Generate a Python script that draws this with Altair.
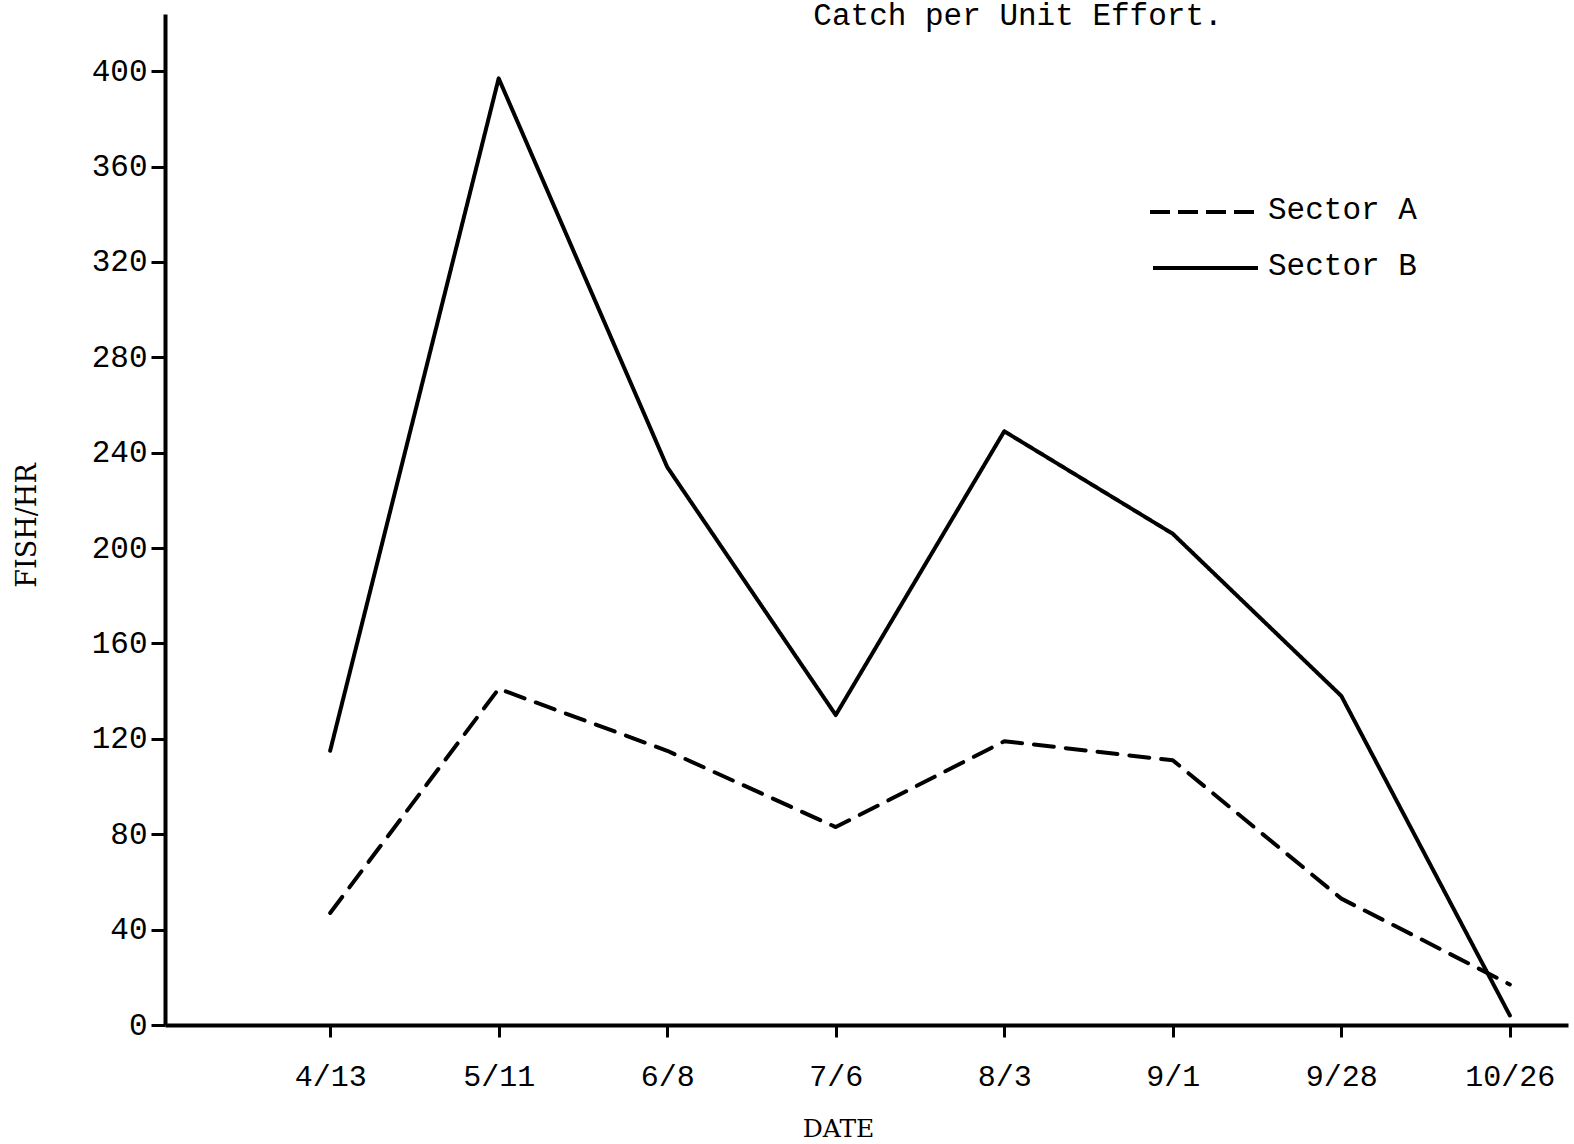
import altair as alt
import pandas as pd

# Sampling dates and catch rates (fish per hour) for the two sectors
dates = ["4/13", "5/11", "6/8", "7/6", "8/3", "9/1", "9/28", "10/26"]
sector_a = [47, 141, 115, 83, 119, 111, 53, 17]
sector_b = [115, 397, 234, 130, 249, 206, 138, 4]
y_ticks = [0, 40, 80, 120, 160, 200, 240, 280, 320, 360, 400]

rows = []
for i, d in enumerate(dates):
    rows.append({"idx": i, "date": d, "series": "Sector A", "value": sector_a[i]})
    rows.append({"idx": i, "date": d, "series": "Sector B", "value": sector_b[i]})
df = pd.DataFrame(rows)

label_map = "{" + ",".join(f"'{i}':'{d}'" for i, d in enumerate(dates)) + "}"

MONO = "Liberation Mono"
SERIF = "DejaVu Serif"

x_enc = alt.X(
    "idx:Q",
    scale=alt.Scale(domain=[-0.98, 7.345], nice=False, zero=False),
    axis=alt.Axis(
        values=list(range(len(dates))),
        labelExpr=f"{label_map}[toString(datum.value)]",
        title="DATE",
        titleFont=SERIF,
        titleFontSize=25,
        titleFontWeight="normal",
        titlePadding=25,
        titleX=673,
        labelFont=MONO,
        labelFontSize=30,
        labelPadding=24,
        labelColor="black",
        tickSize=12,
        tickWidth=3,
        tickColor="black",
        domainWidth=4,
        domainColor="black",
        grid=False,
    ),
)

y_enc = alt.Y(
    "value:Q",
    scale=alt.Scale(domain=[0, 424], nice=False),
    axis=alt.Axis(
        values=y_ticks,
        title="FISH/HR",
        titleFont=SERIF,
        titleFontSize=27,
        titleFontWeight="normal",
        titlePadding=50,
        titleY=511,
        labelFont=MONO,
        labelFontSize=31,
        labelPadding=4,
        labelColor="black",
        tickSize=14,
        tickWidth=3,
        tickColor="black",
        domainWidth=4,
        domainColor="black",
        grid=False,
    ),
)

lines = alt.Chart(df).mark_line(color="black", strokeWidth=4, strokeCap="round", strokeJoin="round").encode(
    x=x_enc,
    y=y_enc,
    detail="series:N",
    strokeDash=alt.StrokeDash(
        "series:N",
        scale=alt.Scale(domain=["Sector A", "Sector B"], range=[[20, 12], [1, 0]]),
        legend=None,
    ),
)

# Key in the upper right: line samples and their labels
key = pd.DataFrame({
    "series": ["Sector A", "Sector B"],
})
key_a_line = alt.Chart(key[key.series == "Sector A"]).mark_rule(
    color="black", strokeWidth=4, strokeDash=[20, 8]
).encode(x=alt.value(985), x2=alt.value(1093), y=alt.value(198))
key_b_line = alt.Chart(key[key.series == "Sector B"]).mark_rule(
    color="black", strokeWidth=4
).encode(x=alt.value(988), x2=alt.value(1093), y=alt.value(254))
key_a_text = alt.Chart(key[key.series == "Sector A"]).mark_text(
    font=MONO, fontSize=31, align="left", baseline="middle", color="black"
).encode(x=alt.value(1103), y=alt.value(196), text="series:N")
key_b_text = alt.Chart(key[key.series == "Sector B"]).mark_text(
    font=MONO, fontSize=31, align="left", baseline="middle", color="black"
).encode(x=alt.value(1103), y=alt.value(252), text="series:N")

heading = alt.Chart(pd.DataFrame({"t": ["Catch per Unit Effort."]})).mark_text(
    font=MONO, fontSize=31, align="center", baseline="alphabetic", color="black"
).encode(x=alt.value(853), y=alt.value(11), text="t:N")

chart = alt.layer(
    lines, key_a_line, key_b_line, key_a_text, key_b_text, heading
).properties(
    width=1403,
    height=1011,
    padding={"left": 165, "top": 14, "right": 6, "bottom": 119},
    autosize=alt.AutoSizeParams(type="none"),
    background="white",
).configure_view(stroke=None)

chart.save("out.html", embed_options={"renderer": "svg", "actions": False})
